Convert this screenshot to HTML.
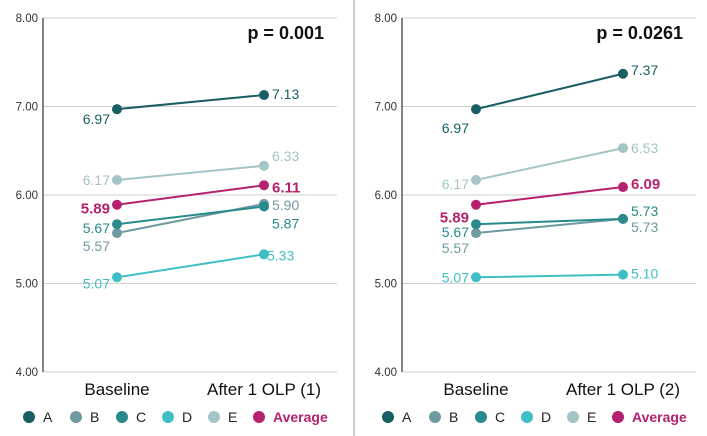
<!DOCTYPE html>
<html><head><meta charset="utf-8">
<style>
body{margin:0;background:#fff;width:707px;height:436px;overflow:hidden;font-family:"Liberation Sans",sans-serif}
svg{display:block}
</style></head>
<body>
<svg id="chart" width="707" height="436" viewBox="0 0 707 436" xmlns="http://www.w3.org/2000/svg"></svg>
<script>
const seriesNames=["A","B","C","D","E","Average"];
const baseline1=[6.97,5.57,5.67,5.07,6.17,5.89];
const after1=[7.13,5.90,5.87,5.33,6.33,6.11];
const baseline2=[6.97,5.57,5.67,5.07,6.17,5.89];
const after2=[7.37,5.73,5.73,5.10,6.53,6.09];
const categories1=["Baseline","After 1 OLP (1)"];
const categories2=["Baseline","After 1 OLP (2)"];
const yTicks=[4,5,6,7,8];
const pValues=["p = 0.001","p = 0.0261"];
const colors=["#185e62","#6f9aa2","#298a8b","#3fbfc5","#a4c4c6","#b5216e"];
// label offsets (style only): [dx,dy] for baseline and after labels
const offB1=[[-7,15],[-7,18],[-7,9],[-7,11],[-7,5],[-7,9]];
const offA1=[[8,4],[8,6],[8,22],[3,6],[8,-5],[8,7]];
const offB2=[[-7,24],[-7,20],[-7,13],[-7,5],[-7,9],[-7,18]];
const offA2=[[8,1],[8,13],[8,-3],[8,4],[8,5],[8,2]];
const svg=document.getElementById('chart');
const NS="http://www.w3.org/2000/svg";
function mk(tag,attrs,parent){const e=document.createElementNS(NS,tag);for(const k in attrs)e.setAttribute(k,attrs[k]);(parent||svg).appendChild(e);return e;}
function yS(v){return 372-(v-4)*(372-18)/4;}
function panel(ox,base,after,cats,p,offB,offA,id){
  const g=mk('g',{});
  
  
  const axisX=ox+43,gridEnd=ox+337,xB=ox+117,xA=ox+264;
  yTicks.forEach(t=>{
    const l=mk('line',{x1:axisX,x2:gridEnd,y1:yS(t),y2:yS(t),stroke:'#cfcfcf','stroke-width':1},g);
    
    
    const tx=mk('text',{x:axisX-5,y:yS(t)+4,'text-anchor':'end','font-size':11.5,fill:'#333'},g);
    tx.textContent=t.toFixed(2);
    
    
  });
  const ax=mk('line',{x1:axisX,x2:axisX,y1:18,y2:372,stroke:'#333','stroke-width':1.2},g);
  
  
  [xB,xA].forEach((x,i)=>{
    const t=mk('text',{x:x,y:395,'text-anchor':'middle','font-size':17,fill:'#111'},g);
    t.textContent=cats[i];
    
    
  });
  const pt=mk('text',{x:gridEnd-13,y:39,'text-anchor':'end','font-size':18,'font-weight':'bold',fill:'#111'},g);
  pt.textContent=p;
  
  
  const order=[4,1,2,3,0,5];
  order.forEach(i=>{
    const c=colors[i];
    const ln=mk('line',{x1:xB,y1:yS(base[i]),x2:xA,y2:yS(after[i]),stroke:c,'stroke-width':2},g);
    
    
    [[xB,base[i],offB[i],'end'],[xA,after[i],offA[i],'start']].forEach(([x,v,o,anc])=>{
      const d=mk('circle',{cx:x,cy:yS(v),r:5,fill:c},g);
      
      
      const bold=i===5;
      const lb=mk('text',{x:x+o[0],y:yS(v)+o[1],'text-anchor':anc,'font-size':bold?15:14,'font-weight':bold?'bold':'normal',fill:c},g);
      lb.textContent=v.toFixed(2);
      
      
    });
  });
  const lx=[ox+29,ox+76,ox+122,ox+168,ox+214,ox+259];
  seriesNames.forEach((n,i)=>{
    const d=mk('circle',{cx:lx[i],cy:417,r:6,fill:colors[i]},g);
    
    
    const t=mk('text',{x:lx[i]+14,y:422,'font-size':14,fill:i===5?colors[5]:'#222','font-weight':i===5?'bold':'normal'},g);
    t.textContent=n;
    
    
  });
}
panel(0,baseline1,after1,categories1,pValues[0],offB1,offA1,'1');
const dv=mk('line',{x1:354,x2:354,y1:0,y2:436,stroke:'#bbb','stroke-width':1.5});


panel(359,baseline2,after2,categories2,pValues[1],offB2,offA2,'2');
</script>
</body></html>
